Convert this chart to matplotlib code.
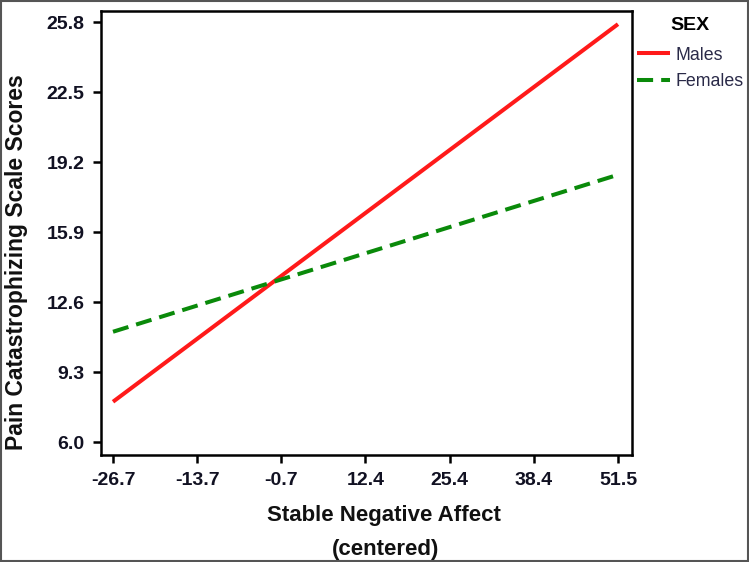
import matplotlib
matplotlib.use("Agg")
import matplotlib.pyplot as plt
from matplotlib.patches import Rectangle

plt.rcParams['font.family'] = ['Liberation Sans', 'DejaVu Sans']

# Data
affect_x = [-26.7, 51.5]
males = [7.9, 25.7]
females = [11.2, 18.6]
x_tick_labels = ["-26.7", "-13.7", "-0.7", "12.4", "25.4", "38.4", "51.5"]
y_ticks = [6.0, 9.3, 12.6, 15.9, 19.2, 22.5, 25.8]
y_tick_labels = ["6.0", "9.3", "12.6", "15.9", "19.2", "22.5", "25.8"]
legend_title = "SEX"
series_names = ["Males", "Females"]

fig = plt.figure(figsize=(7.49, 5.62), dpi=100)
ax = fig.add_axes([101/749, 1-455/562, (632-101)/749, (455-11)/562])

ax.plot(affect_x, males, color='#ff1a1a', lw=2.9, solid_capstyle='butt', label=series_names[0])
ax.plot(affect_x, females, color='#0a8a0a', lw=2.9, ls=(0, (4, 2)), dash_capstyle='butt', label=series_names[1])

n = len(x_tick_labels)
x_ticks = [affect_x[0] + k*(affect_x[1]-affect_x[0])/(n-1) for k in range(n)]
ax.set_xticks(x_ticks)
ax.set_xticklabels(x_tick_labels)
ax.set_yticks(y_ticks)
ax.set_yticklabels(y_tick_labels)
ax.set_xlim(-28.56, 53.67)
ax.set_ylim(5.39, 26.32)

for s in ax.spines.values():
    s.set_linewidth(1.8)
    s.set_color('black')
ax.tick_params(direction='out', length=6, width=1.8, labelsize=14, pad=6, colors='black')
for lab in ax.get_xticklabels() + ax.get_yticklabels():
    lab.set_fontweight('bold')
    lab.set_color('#111122')

fig.text(384/749, 1-515/562, "Stable Negative Affect", ha='center', va='center',
         fontsize=16, fontweight='bold', color='#111111')
fig.text(386/749, 1-549/562, "(centered)", ha='center', va='center',
         fontsize=16, fontweight='bold', color='#111111')
fig.text(17/749, 1-262/562, "Pain Catastrophizing Scale Scores", ha='center', va='center',
         rotation=90, fontsize=16.5, fontweight='semibold', color='#111111')

leg = fig.legend(loc='upper left', bbox_to_anchor=(637/749, 1-17/562), frameon=False,
                 title=legend_title, fontsize=12.8, handlelength=1.85, handletextpad=0.3,
                 labelspacing=0.55, borderaxespad=0, borderpad=0)
leg.get_title().set_fontweight('bold')
leg.get_title().set_fontsize(14)
leg._legend_box.sep = 9
for t in leg.get_texts():
    t.set_color('#2a2a48')

fig.patches.append(Rectangle((0.001, 0.002), 0.997, 0.996, transform=fig.transFigure,
                             fill=False, edgecolor='#555555', lw=1.5))

fig.savefig("out.png", dpi=100)
